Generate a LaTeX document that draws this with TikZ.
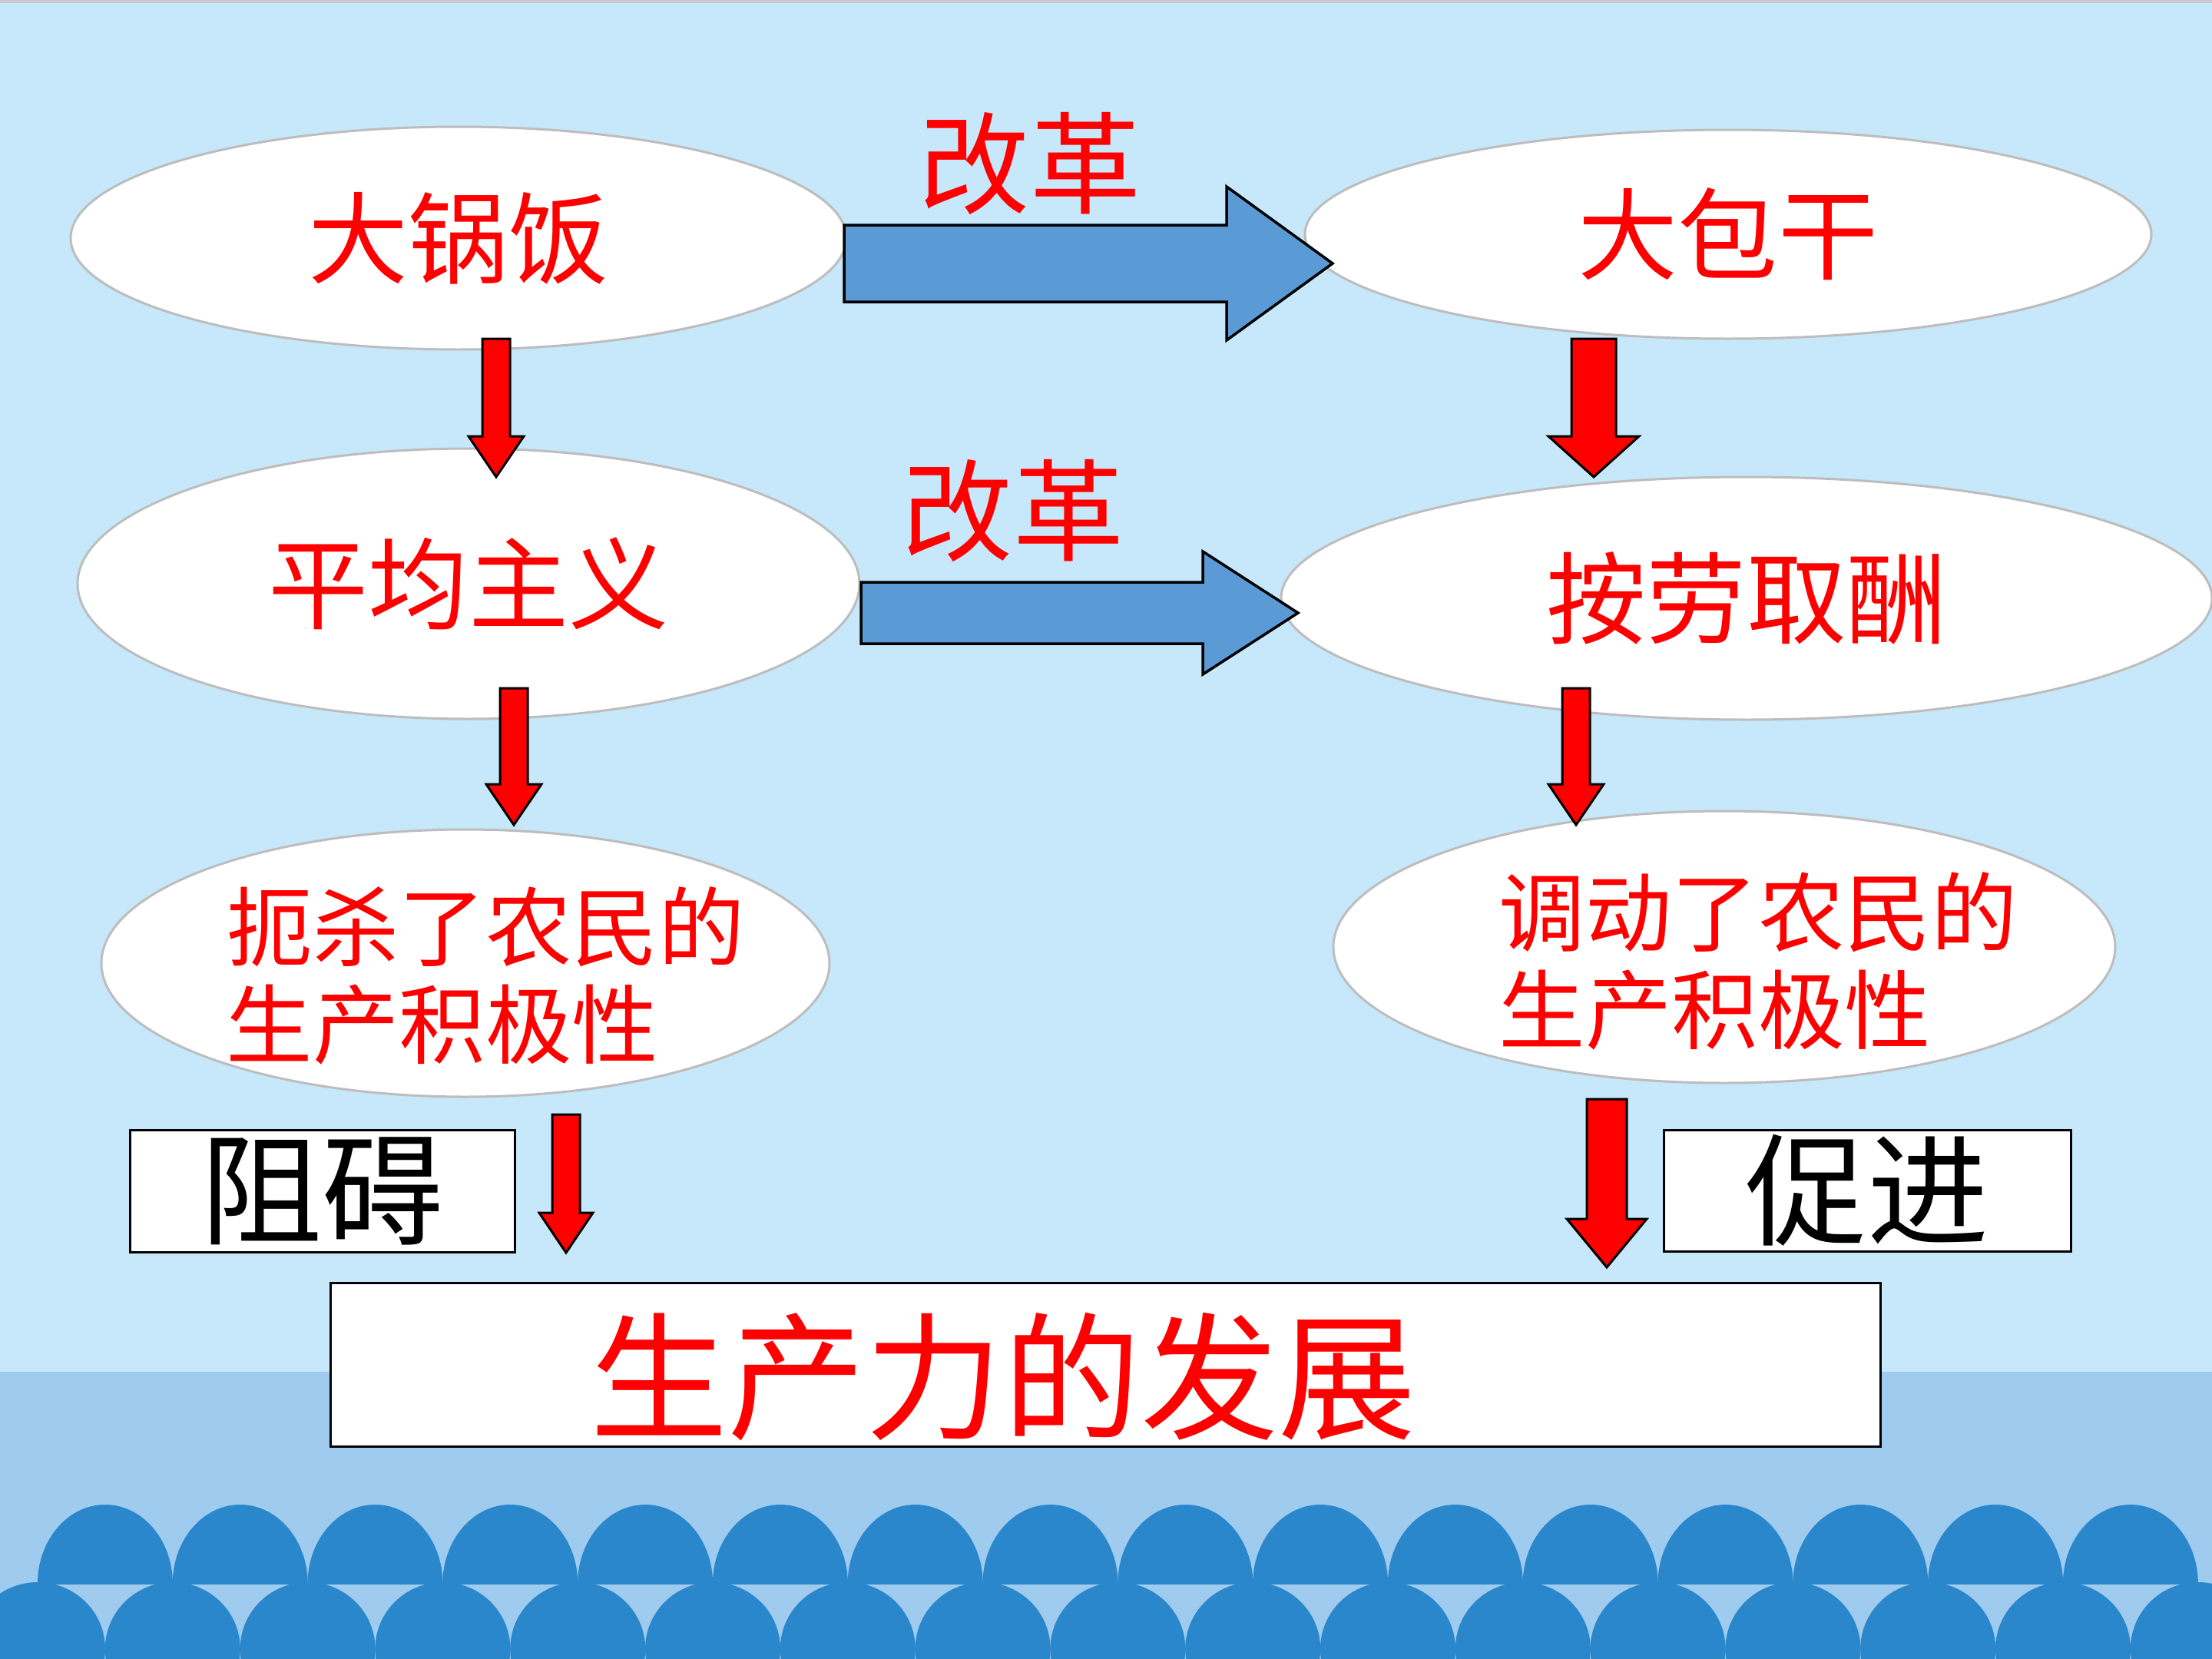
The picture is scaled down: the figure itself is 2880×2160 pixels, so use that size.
\documentclass[tikz,border=0pt]{standalone}
\usepackage{fontspec}
\newfontfamily\cjk{Noto Sans CJK SC}
\usetikzlibrary{shapes.geometric,calc}
\definecolor{bgtop}{HTML}{C6E8FA}
\definecolor{band}{HTML}{9ECBEE}
\definecolor{wave}{HTML}{2B87CB}
\definecolor{blockblue}{HTML}{5B9BD5}
\definecolor{ellborder}{HTML}{BDBDBD}
\definecolor{topgrey}{HTML}{C9C9C9}
% #1 start coord, #2 tip coord, #3 shaft half width, #4 head half width, #5 head length
\newcommand\reddownarrow[5]{%
  \draw[redblock] ($(#1)+(-#3,0)$) -- ($(#1)+(#3,0)$) -- ($(#2)+(#3,-#5)$) -- ($(#2)+(#4,-#5)$) -- (#2)
    -- ($(#2)+(-#4,-#5)$) -- ($(#2)+(-#3,-#5)$) -- cycle;}
\newcommand\bluerightarrow[5]{%
  \draw[blueblock] ($(#1)+(0,-#3)$) -- ($(#2)+(-#5,-#3)$) -- ($(#2)+(-#5,-#4)$) -- (#2)
    -- ($(#2)+(-#5,#4)$) -- ($(#2)+(-#5,#3)$) -- ($(#1)+(0,#3)$) -- cycle;}
\begin{document}
\begin{tikzpicture}[x=0.1mm,y=-0.1mm,
  ell/.style={ellipse, draw=ellborder, line width=0.3mm, fill=white, inner sep=0pt,
    text=red, font={\cjk\fontsize{37}{44}\selectfont}},
  redtxt/.style={text=red, inner sep=0pt},
  labelbox/.style={rectangle, draw=black, line width=0.3mm, fill=white, inner sep=0pt},
  redblock/.style={fill=red, draw=black, line width=0.3mm, line join=miter},
  blueblock/.style={fill=blockblue, draw=black, line width=0.35mm, line join=miter}]
\useasboundingbox (0,0) rectangle (2880,2160);
\begin{scope}
\clip (0,0) rectangle (2880,2160);
\fill[bgtop] (0,0) rectangle (2880,2160);
\fill[topgrey] (0,0) rectangle (2880,4);
\fill[band] (0,1786) rectangle (2880,2160);
\foreach \k in {0,...,16}
  \fill[wave] ({49+175.8*\k},2147) ellipse [x radius=88, y radius=87];
\begin{scope}
\clip (0,1800) rectangle (2880,2062);
\foreach \k in {0,...,15}
  \fill[wave] ({136.9+175.8*\k},2062) ellipse [x radius=88, y radius=103];
\end{scope}
\end{scope}

% ellipses
\node[ell, minimum width=101mm, minimum height=29mm] (e1) at (597,310) {大锅饭};
\node[ell, minimum width=110.2mm, minimum height=27.2mm] (e2) at (2250,305) {大包干};
\node[ell, minimum width=101.8mm, minimum height=35.2mm] (e3) at (610,760) {平均主义};
\node[ell, minimum width=121.2mm, minimum height=31.6mm] (e4) at (2274,779) {按劳取酬};
\node[ell, minimum width=94.8mm, minimum height=34.8mm] (e5) at (606,1254) {};
\node[ell, minimum width=101.8mm, minimum height=35.4mm] (e6) at (2245,1233) {};
\node[redtxt, align=left, anchor=west, font={\cjk\fontsize{32}{36.1}\selectfont}] (t5) at (294,1270) {扼杀了农民的\\生产积极性};
\node[redtxt, align=left, anchor=west, font={\cjk\fontsize{32}{36.1}\selectfont}] (t6) at (1951,1251) {调动了农民的\\生产积极性};

% reform labels
\node[redtxt, font={\cjk\fontsize{41}{48}\selectfont}] (r1) at (1341,213) {改革};
\node[redtxt, font={\cjk\fontsize{41}{48}\selectfont}] (r2) at (1319,665) {改革};

% boxes
\node[labelbox, minimum width=50.1mm, minimum height=15.9mm, font={\cjk\fontsize{45}{50}\selectfont}] (b1) at (419.5,1550.5) {阻碍};
\node[labelbox, minimum width=53mm, minimum height=15.8mm, font={\cjk\fontsize{45}{50}\selectfont}] (b2) at (2431,1550) {促进};
\node[labelbox, minimum width=201.8mm, minimum height=21.3mm] (b3) at (1439,1776.5) {};
\node[redtxt, font={\cjk\fontsize{51}{58}\selectfont}] (t7) at (1306,1793) {生产力的发展};

% blue block arrows
\coordinate (bs1) at (1099,343); \coordinate (be1) at (1735,343);
\coordinate (bs2) at (1121,798); \coordinate (be2) at (1690,798);
\bluerightarrow{bs1}{be1}{50}{100}{138}
\bluerightarrow{bs2}{be2}{40}{80}{124}

% red down arrows
\coordinate (a1s) at (646,441);  \coordinate (a1e) at (646,621);
\coordinate (a2s) at (2075,441); \coordinate (a2e) at (2075,621);
\coordinate (a3s) at (669,896);  \coordinate (a3e) at (669,1074);
\coordinate (a4s) at (2052,896); \coordinate (a4e) at (2052,1074);
\coordinate (a5s) at (737,1451); \coordinate (a5e) at (737,1631);
\coordinate (a6s) at (2092,1431); \coordinate (a6e) at (2092,1650);
\reddownarrow{a1s}{a1e}{18}{36}{53}
\reddownarrow{a2s}{a2e}{29}{59}{53}
\reddownarrow{a3s}{a3e}{18}{36}{53}
\reddownarrow{a4s}{a4e}{18}{36}{53}
\reddownarrow{a5s}{a5e}{18}{35}{52}
\reddownarrow{a6s}{a6e}{26}{52}{63}
\end{tikzpicture}
\end{document}
